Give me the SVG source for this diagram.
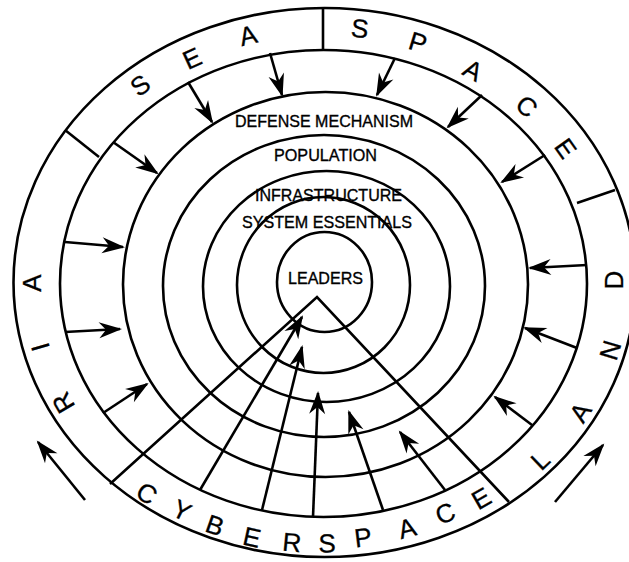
<svg xmlns="http://www.w3.org/2000/svg" width="629" height="562" viewBox="0 0 629 562">
  <style>
    .ring { fill: none; stroke: #000; stroke-width: 2.6; }
    .ln { fill: none; stroke: #000; stroke-width: 2.6; }
    .arr { fill: none; stroke: #000; stroke-width: 2.6; marker-end: url(#head); }
    .lab { font-family: "Liberation Sans", Arial, sans-serif; font-size: 17px; fill: #000; stroke: #000; stroke-width: 0.35; text-anchor: middle; }
    .big { font-family: "Liberation Sans", Arial, sans-serif; font-size: 26px; fill: #000; stroke: #000; stroke-width: 0.3; text-anchor: middle; }
  </style>
  <defs>
    <marker id="head" viewBox="-24 -10 28 20" refX="0" refY="0" markerWidth="28" markerHeight="20" markerUnits="userSpaceOnUse" orient="auto">
      <path d="M2,0 L-21,-8 L-14,0 L-21,8 Z" fill="#000"/>
    </marker>
  </defs>
  <rect x="0" y="0" width="629" height="562" fill="#fff"/>

  <g id="outer-domains">
    <ellipse class="ring" cx="324.5" cy="282.5" rx="311" ry="274.5"/>
    <g class="big">
      <text transform="translate(140,85) rotate(-36)" y="9.4">S</text>
      <text transform="translate(192,58) rotate(-24.7)" y="9.4">E</text>
      <text transform="translate(248,35) rotate(-13.5)" y="9.4">A</text>
      <text transform="translate(360,28) rotate(6.3)" y="9.4">S</text>
      <text transform="translate(418,42) rotate(17)" y="9.4">P</text>
      <text transform="translate(473,70) rotate(28.7)" y="9.4">A</text>
      <text transform="translate(527,106) rotate(41.9)" y="9.4">C</text>
      <text transform="translate(566,148) rotate(54.5)" y="9.4">E</text>
      <text transform="translate(614,280) rotate(-90)" y="9.4">D</text>
      <text transform="translate(610,350) rotate(-73.3)" y="9.4">N</text>
      <text transform="translate(580,412) rotate(-57.2)" y="9.4">A</text>
      <text transform="translate(540,460) rotate(-43.7)" y="9.4">L</text>
      <text transform="translate(147,493) rotate(33.4)" y="9.4">C</text>
      <text transform="translate(182,510) rotate(26.1)" y="9.4">Y</text>
      <text transform="translate(215,525) rotate(19.4)" y="9.4">B</text>
      <text transform="translate(252,537) rotate(12.5)" y="9.4">E</text>
      <text transform="translate(292,542) rotate(5.5)" y="9.4">R</text>
      <text transform="translate(327,543) rotate(-0.5)" y="9.4">S</text>
      <text transform="translate(363,537) rotate(-6.9)" y="9.4">P</text>
      <text transform="translate(407,528) rotate(-14.9)" y="9.4">A</text>
      <text transform="translate(445,513) rotate(-22.4)" y="9.4">C</text>
      <text transform="translate(481,498) rotate(-29.8)" y="9.4">E</text>
      <text transform="translate(32,283) rotate(-90)" y="9.4">A</text>
      <text transform="translate(40,347) rotate(-106)" y="9.4">I</text>
      <text transform="translate(63,403) rotate(-120.4)" y="9.4">R</text>
    </g>
  </g>

  <g id="threat-ring">
    <ellipse class="ring" cx="323.5" cy="283.5" rx="263.5" ry="233.5"/>
  </g>

  <g id="defense-mechanism">
    <ellipse class="ring" cx="325.5" cy="284.5" rx="202.5" ry="192.5"/>
    <text class="lab" x="324" y="127" textLength="178" lengthAdjust="spacingAndGlyphs">DEFENSE MECHANISM</text>
  </g>

  <g id="population">
    <ellipse class="ring" cx="324" cy="286" rx="161" ry="151"/>
    <text class="lab" x="325.5" y="161" textLength="103" lengthAdjust="spacingAndGlyphs">POPULATION</text>
  </g>

  <g id="infrastructure">
    <ellipse class="ring" cx="326.5" cy="286.5" rx="123.5" ry="115.5"/>
    <text class="lab" x="328.5" y="201" textLength="147" lengthAdjust="spacingAndGlyphs">INFRASTRUCTURE</text>
  </g>

  <g id="system-essentials">
    <ellipse class="ring" cx="323.5" cy="285" rx="86.5" ry="88"/>
    <text class="lab" x="327" y="228" textLength="170" lengthAdjust="spacingAndGlyphs">SYSTEM ESSENTIALS</text>
  </g>

  <g id="leaders">
    <ellipse class="ring" cx="324.5" cy="282" rx="47.5" ry="50"/>
    <text class="lab" x="325.5" y="284" textLength="75" lengthAdjust="spacingAndGlyphs">LEADERS</text>
  </g>

  <g id="connectors">
    <line class="ln" x1="323" y1="8" x2="323" y2="50"/>
    <line class="ln" x1="65" y1="130" x2="99" y2="157"/>
    <line class="ln" x1="577" y1="203" x2="615" y2="190"/>
    <polyline class="ln" points="110,484 317,297 509,502"/>

    <line class="arr" x1="188" y1="82" x2="212" y2="122"/>
    <line class="arr" x1="270" y1="53" x2="282" y2="95"/>
    <line class="arr" x1="113" y1="142" x2="157" y2="173"/>
    <line class="arr" x1="65" y1="242" x2="123" y2="247"/>
    <line class="arr" x1="65" y1="332" x2="120" y2="329"/>
    <line class="arr" x1="103" y1="413" x2="147" y2="384"/>
    <line class="arr" x1="395" y1="58" x2="377" y2="95"/>
    <line class="arr" x1="482" y1="95" x2="448" y2="127"/>
    <line class="arr" x1="545" y1="155" x2="502" y2="182"/>
    <line class="arr" x1="587" y1="265" x2="530" y2="268"/>
    <line class="arr" x1="577" y1="348" x2="525" y2="328"/>
    <line class="arr" x1="532" y1="425" x2="495" y2="397"/>

    <line class="arr" x1="200" y1="490" x2="302" y2="317"/>
    <line class="arr" x1="262" y1="510" x2="302" y2="347"/>
    <line class="arr" x1="313" y1="517" x2="318" y2="393"/>
    <line class="arr" x1="383" y1="510" x2="349" y2="412"/>
    <line class="arr" x1="445" y1="490" x2="400" y2="432"/>

    <line class="arr" x1="85" y1="500" x2="38" y2="442"/>
    <line class="arr" x1="555" y1="502" x2="603" y2="445"/>
  </g>
</svg>
